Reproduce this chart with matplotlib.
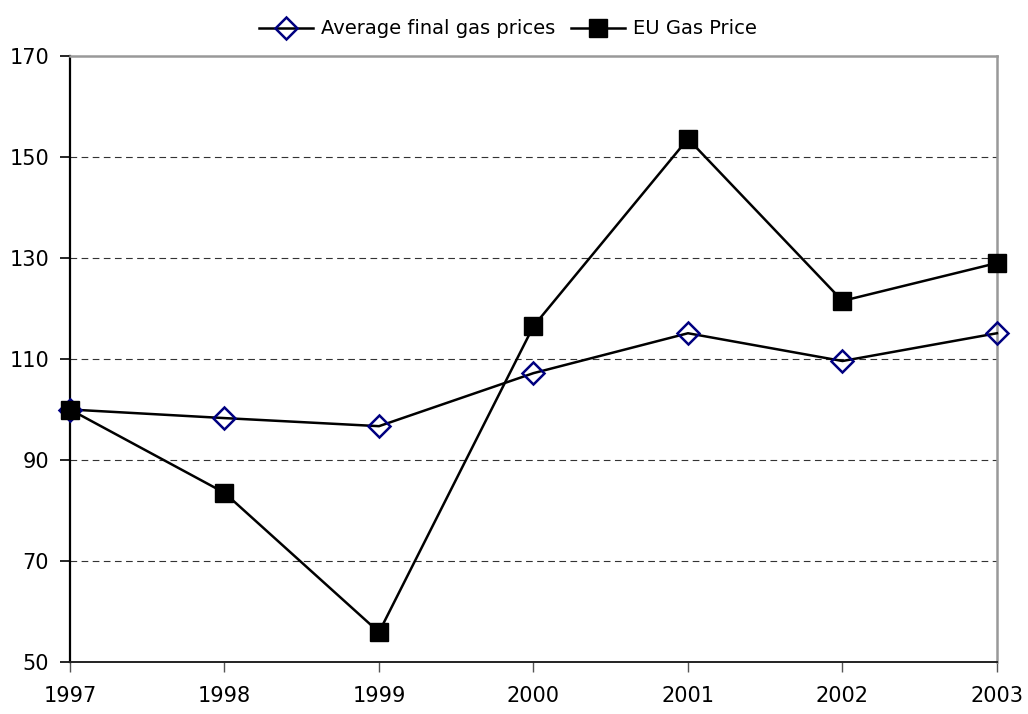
import matplotlib
matplotlib.use("Agg")
import matplotlib.pyplot as plt

years = [1997, 1998, 1999, 2000, 2001, 2002, 2003]
avg_final = [100, 98.3, 96.7, 107.2, 115.1, 109.6, 115.1]
eu_gas = [100, 83.5, 55.9, 116.5, 153.6, 121.5, 129.0]
yticks = [50, 70, 90, 110, 130, 150, 170]

plt.rcParams['font.family'] = ['DejaVu Sans']
fig = plt.figure(figsize=(10.28, 7.14), dpi=100)
ax = fig.add_axes([0.0681, 0.0728, 0.9017, 0.8488])

ax.plot(years, avg_final, color='black', lw=1.8, marker='D', markersize=11,
        markerfacecolor='none', markeredgecolor='#000080', markeredgewidth=1.8,
        label='Average final gas prices', zorder=3, clip_on=False)
ax.plot(years, eu_gas, color='black', lw=1.8, marker='s', markersize=13,
        markerfacecolor='black', markeredgecolor='black',
        label='EU Gas Price', zorder=3, clip_on=False)

ax.set_xlim(1997, 2003)
ax.set_ylim(50, 170)
ax.set_yticks(yticks)
ax.set_xticks(years)
ax.tick_params(axis='y', labelsize=15, length=7, width=1.2, direction='out', pad=8)
ax.tick_params(axis='x', labelsize=15, length=7, width=1.0, direction='out',
               color='#555555', pad=10)
for y in yticks[1:-1]:
    ax.axhline(y, color='#333333', lw=0.8, ls=(0, (6, 4)), zorder=1)
ax.spines['left'].set_color('black')
ax.spines['bottom'].set_color('#222222')
ax.spines['left'].set_linewidth(1.6)
ax.spines['bottom'].set_linewidth(1.4)
ax.spines['top'].set_color('#999999')
ax.spines['right'].set_color('#999999')
ax.spines['top'].set_linewidth(1.8)
ax.spines['right'].set_linewidth(1.8)

ax.legend(loc='lower center', bbox_to_anchor=(0.4725, 1.0), ncol=2, frameon=False,
          fontsize=14, handlelength=2.8, columnspacing=0.8, handletextpad=0.4,
          borderaxespad=0.5)

fig.savefig('out.png', dpi=100)
